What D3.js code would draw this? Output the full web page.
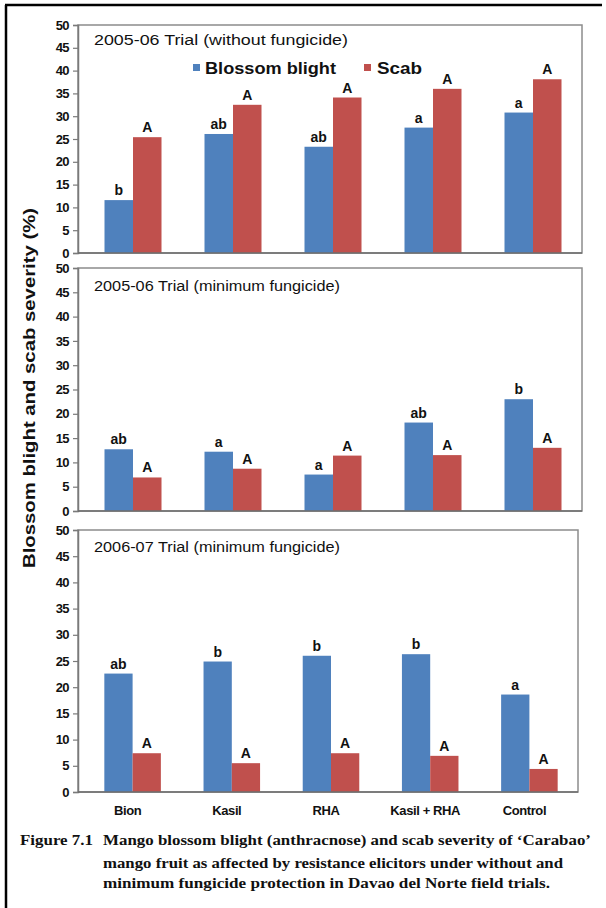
<!DOCTYPE html>
<html>
<head>
<meta charset="utf-8">
<script src="https://cdn.jsdelivr.net/npm/d3@7"></script>
<style>
  html, body { margin: 0; padding: 0; background: #fff; }
  svg { display: block; }
</style>
</head>
<body>
<div id="chart"></div>
<script>
const categories = ['Bion', 'Kasil', 'RHA', 'Kasil + RHA', 'Control'];
const seriesNames = ['Blossom blight', 'Scab'];
const yTicks = [0, 5, 10, 15, 20, 25, 30, 35, 40, 45, 50];

const titles = [
  '2005-06 Trial (without fungicide)',
  '2005-06 Trial (minimum fungicide)',
  '2006-07 Trial (minimum fungicide)'
];

// 2005-06, no fungicide
const blight1 = [11.6, 26.1, 23.3, 27.5, 30.8];
const scab1 = [25.4, 32.5, 34.1, 36.0, 38.1];
const blightLetters1 = ['b', 'ab', 'ab', 'a', 'a'];
const scabLetters1 = ['A', 'A', 'A', 'A', 'A'];

// 2005-06, minimum fungicide
const blight2 = [12.7, 12.2, 7.5, 18.2, 23.0];
const scab2 = [6.9, 8.7, 11.4, 11.5, 13.0];
const blightLetters2 = ['ab', 'a', 'a', 'ab', 'b'];
const scabLetters2 = ['A', 'A', 'A', 'A', 'A'];

// 2006-07, minimum fungicide
const blight3 = [22.6, 24.9, 26.0, 26.3, 18.6];
const scab3 = [7.4, 5.5, 7.4, 6.9, 4.4];
const blightLetters3 = ['ab', 'b', 'b', 'b', 'a'];
const scabLetters3 = ['A', 'A', 'A', 'A', 'A'];

const captionLines = [
  'Figure 7.1',
  'Mango blossom blight (anthracnose) and scab severity of \u2018Carabao\u2019',
  'mango fruit as affected by resistance elicitors under without and',
  'minimum  fungicide protection in Davao del  Norte field trials.'
];

const W = 606, H = 908;
const BLUE = '#4f81bd', RED = '#c0504d';
const SANS = "'Liberation Sans Narrow', 'Arial Narrow', 'Liberation Sans', Arial, sans-serif";
const WIDE = "'Liberation Sans', Arial, sans-serif";

const panels = [
  { top: 25, bottom: 253, left: 78, right: 582, title: titles[0], blight: blight1, scab: scab1, bl: blightLetters1, sl: scabLetters1, titleY: 45, titleW: 254 },
  { top: 268, bottom: 511, left: 78, right: 582, title: titles[1], blight: blight2, scab: scab2, bl: blightLetters2, sl: scabLetters2, titleY: 291, titleW: 246 },
  { top: 530, bottom: 792, left: 78, right: 578, title: titles[2], blight: blight3, scab: scab3, bl: blightLetters3, sl: scabLetters3, titleY: 552, titleW: 246 }
];

const svg = d3.select('#chart').append('svg')
  .attr('width', W)
  .attr('height', H);

svg.append('rect').attr('width', W).attr('height', H).attr('fill', '#fff');

// outer frame (top + left)
svg.append('line').attr('x1', 5).attr('y1', 5).attr('x2', 602).attr('y2', 5)
  .attr('stroke', '#000').attr('stroke-width', 2.5);
svg.append('line').attr('x1', 6).attr('y1', 5).attr('x2', 6).attr('y2', H)
  .attr('stroke', '#000').attr('stroke-width', 2.5);

panels.forEach((p, pi) => {
  const g = svg.append('g');

  const y = d3.scaleLinear().domain([0, 50]).range([p.bottom, p.top]);
  const x = d3.scaleBand().domain(categories)
    .range([p.left + 5, p.right + 1])
    .paddingInner(0.43).paddingOuter(0.215);
  const xs = d3.scaleBand().domain(seriesNames).range([0, x.bandwidth()]);

  // plot box
  g.append('rect')
    .attr('x', p.left).attr('y', p.top)
    .attr('width', p.right - p.left).attr('height', p.bottom - p.top)
    .attr('fill', '#fff').attr('stroke', '#8c8c8c').attr('stroke-width', 1.5);

  const rows = categories.map((c, i) => ({ cat: c, i }));

  rows.forEach(d => {
    [['Blossom blight', p.blight[d.i], p.bl[d.i], BLUE], ['Scab', p.scab[d.i], p.sl[d.i], RED]].forEach(([s, v, lab, col]) => {
      const bx = x(d.cat) + xs(s);
      g.append('rect')
        .attr('x', bx).attr('y', y(v))
        .attr('width', xs.bandwidth()).attr('height', y(0) - y(v))
        .attr('fill', col);
      g.append('text')
        .attr('x', bx + xs.bandwidth() / 2)
        .attr('y', y(v) - 5)
        .attr('text-anchor', 'middle')
        .attr('font-family', WIDE)
        .attr('font-weight', 'bold')
        .attr('font-size', 14)
        .attr('fill', '#111')
        .text(lab);
    });
  });

  // y axis
  const ax = g.append('g')
    .attr('transform', `translate(${p.left},0)`)
    .call(d3.axisLeft(y).tickValues(yTicks).tickSize(5).tickPadding(4));
  ax.select('.domain').attr('stroke', '#7a7a7a').attr('stroke-width', 1.5);
  ax.selectAll('.tick line').attr('stroke', '#7a7a7a').attr('stroke-width', 1.2);
  ax.selectAll('.tick text')
    .attr('font-family', SANS)
    .attr('font-weight', 'bold')
    .attr('font-size', 13)
    .attr('letter-spacing', -0.6)
    .attr('fill', '#111');

  // x axis baseline
  g.append('line')
    .attr('x1', p.left).attr('x2', p.right)
    .attr('y1', y(0)).attr('y2', y(0))
    .attr('stroke', '#6e6e6e').attr('stroke-width', 1.5);

  // panel title
  g.append('text')
    .attr('x', 94).attr('y', p.titleY)
    .attr('font-family', SANS)
    .attr('font-size', 14)
    .attr('fill', '#111')
    .attr('textLength', p.titleW)
    .attr('lengthAdjust', 'spacingAndGlyphs')
    .text(p.title);

  if (pi === 2) {
    g.selectAll('.xlab')
      .data(categories)
      .join('text')
      .attr('class', 'xlab')
      .attr('x', d => x(d) + x.bandwidth() / 2 - 5)
      .attr('y', 815)
      .attr('text-anchor', 'middle')
      .attr('font-family', SANS)
      .attr('font-weight', 'bold')
      .attr('font-size', 13)
      .attr('letter-spacing', -0.4)
      .attr('fill', '#111')
      .text(d => d);
  }
});

// legend in first panel
const legend = svg.append('g');
const legendItems = [
  { name: seriesNames[0], color: BLUE, sx: 193, tx: 205, tw: 131 },
  { name: seriesNames[1], color: RED, sx: 364, tx: 377, tw: 45 }
];
legendItems.forEach(d => {
  legend.append('rect')
    .attr('x', d.sx).attr('y', 64).attr('width', 7).attr('height', 7)
    .attr('fill', d.color);
  legend.append('text')
    .attr('x', d.tx).attr('y', 74)
    .attr('font-family', WIDE)
    .attr('font-weight', 'bold')
    .attr('font-size', 16)
    .attr('fill', '#111')
    .attr('textLength', d.tw)
    .attr('lengthAdjust', 'spacingAndGlyphs')
    .text(d.name);
});

// y axis title
svg.append('text')
  .attr('transform', 'translate(35,388) rotate(-90)')
  .attr('text-anchor', 'middle')
  .attr('font-family', WIDE)
  .attr('font-weight', 'bold')
  .attr('font-size', 16)
  .attr('fill', '#111')
  .attr('textLength', 360)
  .attr('lengthAdjust', 'spacingAndGlyphs')
  .text('Blossom blight and scab severity (%)');

// caption
const cap = svg.append('g')
  .attr('font-family', "'Liberation Serif', 'Times New Roman', serif")
  .attr('font-weight', 'bold')
  .attr('font-size', 15)
  .attr('fill', '#111')
  .style('white-space', 'pre');
cap.append('text').attr('x', 20).attr('y', 845)
  .attr('textLength', 73).attr('lengthAdjust', 'spacingAndGlyphs')
  .text(captionLines[0]);
[[captionLines[1], 845, 488], [captionLines[2], 868, 460], [captionLines[3], 888, 447]].forEach(([t, yy, w]) => {
  cap.append('text').attr('x', 103).attr('y', yy)
    .attr('textLength', w).attr('lengthAdjust', 'spacingAndGlyphs')
    .text(t);
});
</script>
</body>
</html>
